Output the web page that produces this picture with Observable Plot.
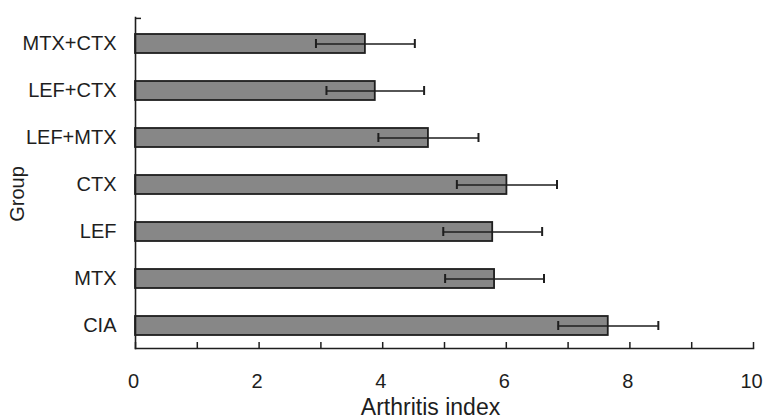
<!DOCTYPE html>
<html><head><meta charset="utf-8">
<script src="https://cdn.jsdelivr.net/npm/d3@7"></script>
<script src="https://cdn.jsdelivr.net/npm/@observablehq/plot@0.6"></script>
<style>body{margin:0;background:#fff;} svg{display:block;}</style>
</head><body><div id="chart"></div>
<script>
const groups = ["CIA", "MTX", "LEF", "CTX", "LEF+MTX", "LEF+CTX", "MTX+CTX"];
const means  = [7.65, 5.81, 5.78, 6.01, 4.74, 3.88, 3.72];
const sds    = [0.81, 0.80, 0.80, 0.81, 0.81, 0.79, 0.80];
const xTicks = [0, 1, 2, 3, 4, 5, 6, 7, 8, 9, 10];
const xTickLabels = [0, 2, 4, 6, 8, 10];
const xTitle = "Arthritis index";
const yTitle = "Group";

const data = groups.map((g, i) => ({group: g, mean: means[i], lo: means[i] - sds[i], hi: means[i] + sds[i]}));

const ink = "#1e1e1e";
const chart = Plot.plot({
  width: 766,
  height: 419,
  marginLeft: 135,
  marginRight: 13,
  marginTop: 17,
  marginBottom: 71,
  style: {fontFamily: "'Liberation Sans', Arial, sans-serif", fontSize: "20px", color: ink, background: "#fff"},
  x: {domain: [0, 10]},
  y: {domain: groups.slice().reverse(), paddingInner: 0.59, paddingOuter: 0.295, insetTop: 2, insetBottom: -2},
  marks: [
    Plot.barX(data, {x: "mean", y: "group", fill: "#878787", stroke: ink, strokeWidth: 1.8}),
    Plot.ruleY(data, {y: "group", x1: "lo", x2: "hi", stroke: ink, strokeWidth: 1.4}),
    Plot.tickX(data, {x: "lo", y: "group", stroke: ink, strokeWidth: 2, insetTop: 5, insetBottom: 5}),
    Plot.tickX(data, {x: "hi", y: "group", stroke: ink, strokeWidth: 2, insetTop: 5, insetBottom: 5}),
    Plot.frame({anchor: "left", stroke: ink, strokeWidth: 1.6}),
    Plot.frame({anchor: "bottom", stroke: ink, strokeWidth: 1.6}),
    Plot.tickX(xTicks, {x: d => d, stroke: ink, strokeWidth: 1.5, insetTop: 325}),
    Plot.axisX({ticks: xTickLabels, tickSize: 0, tickPadding: 25, fontSize: 20, dx: -2, label: null, fill: ink}),
    Plot.axisY({tickSize: 0, tickPadding: 19, fontSize: 20, label: null, fill: ink}),
    Plot.axisY({ticks: [groups[groups.length - 1]], tickSize: -6, text: null, dy: -25.6, stroke: ink, strokeWidth: 1.5, label: null}),
    Plot.text([xTitle], {text: d => d, frameAnchor: "bottom", textAnchor: "middle", lineAnchor: "middle", dx: -14, dy: 59, fontSize: 23, fill: ink}),
    Plot.text([yTitle], {text: d => d, frameAnchor: "left", textAnchor: "middle", lineAnchor: "middle", rotate: -90, dx: -118, dy: 11, fontSize: 20, fill: ink})
  ]
});
document.getElementById("chart").appendChild(chart);
</script>
</body></html>
